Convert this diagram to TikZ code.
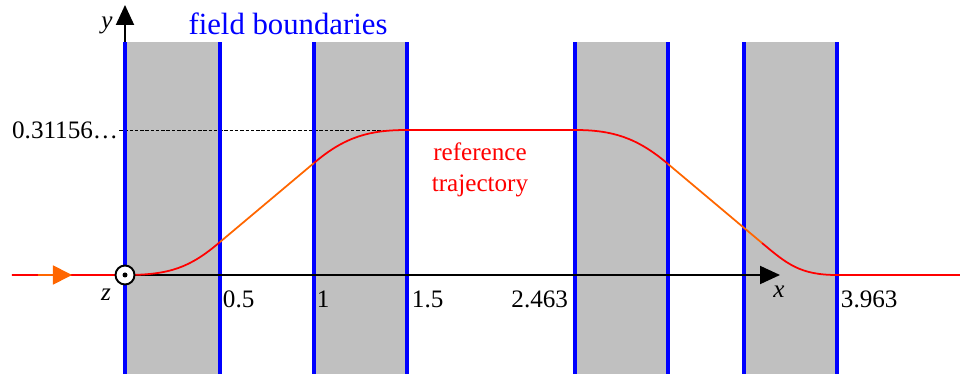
\documentclass[tikz,border=0pt]{standalone}
\usepackage{fontspec}
\setmainfont{Liberation Serif}
\usetikzlibrary{arrows.meta,positioning}
\definecolor{fieldgray}{RGB}{192,192,192}
\definecolor{beamorange}{RGB}{255,102,0}

\begin{document}
\begin{tikzpicture}[
    >={Triangle[length=4mm,width=3.6mm]},
    line width=1.1pt,
    every node/.style={inner sep=0pt, font=\fontsize{14.3}{17.6}\selectfont},
    boundary/.style={blue, line width=2.3pt},
    orbit/.style={red, line width=1pt},
    drift/.style={beamorange, line width=1pt}
]
  \useasboundingbox (-2.5,-1.98) rectangle (16.7,5.5);

  % magnets
  \foreach \a/\b in {0/1.9, 3.78/5.64, 9.0/10.86, 12.38/14.24}
    \fill[fieldgray] (\a,-1.98) rectangle (\b,4.66);

  % coordinates
  \coordinate (o) at (0,0);
  \coordinate (ytip) at (0,5.4);
  \coordinate (xtip) at (13.1,0);
  \coordinate (in) at (-2.26,0);
  \coordinate (out) at (16.7,0);
  \coordinate (top) at (5.64,2.9);

  % nodes
  \node[anchor=east] (ymax) at (-0.12,2.9) {0.31156…};
  \node[blue, font=\fontsize{17.5}{21}\selectfont] (fb) at (3.26,5.02) {field boundaries};
  \node[red, align=center] (traj) at (7.1,2.1) {reference\\trajectory};
  \node (ylab) at (-0.36,5.0) {\textit{y}};
  \node (xlab) at (13.08,-0.34) {\textit{x}};
  \node (zlab) at (-0.38,-0.4) {\textit{z}};
  \node[anchor=west] (t1) at (1.94,-0.48) {0.5};
  \node[anchor=west] (t2) at (3.82,-0.48) {1};
  \node[anchor=west] (t3) at (5.72,-0.48) {1.5};
  \node[anchor=east] (t4) at (8.88,-0.48) {2.463};
  \node[anchor=west] (t5) at (14.3,-0.48) {3.963};

  % edges
  \draw[dashed, line width=0.4pt, dash pattern=on 2pt off 1pt] (ymax) -- (top);
  \draw[->] (o) -- (ytip);
  \foreach \a in {0,1.9,3.78,5.64,9.0,10.86,12.38,14.24}
    \draw[boundary] (\a,-1.98) -- (\a,4.66);
  \draw[->] (o) -- (xtip);

  % trajectory
  \draw[orbit] (in) -- (o) .. controls (0.9,0) and (1.3,0.15) .. (1.9,0.66);
  \draw[drift] (1.9,0.66) -- (3.78,2.24);
  \draw[orbit] (3.78,2.24) .. controls (4.4,2.77) and (4.9,2.9) .. (top)
    -- (9.0,2.9) .. controls (9.74,2.9) and (10.24,2.75) .. (10.86,2.22);
  \draw[drift] (10.86,2.22) -- (12.74,0.64);
  \draw[orbit] (12.74,0.64) .. controls (13.24,0.22) and (13.5,0) .. (14.24,0) -- (out);
  \draw[drift, -{Triangle[length=3.8mm,width=3.8mm]}] (-1.74,0) -- (-1.06,0);

  \node[circle, draw, fill=white, minimum size=3.8mm] (O) at (o) {};
  \fill (O) circle (0.05);
\end{tikzpicture}
\end{document}
